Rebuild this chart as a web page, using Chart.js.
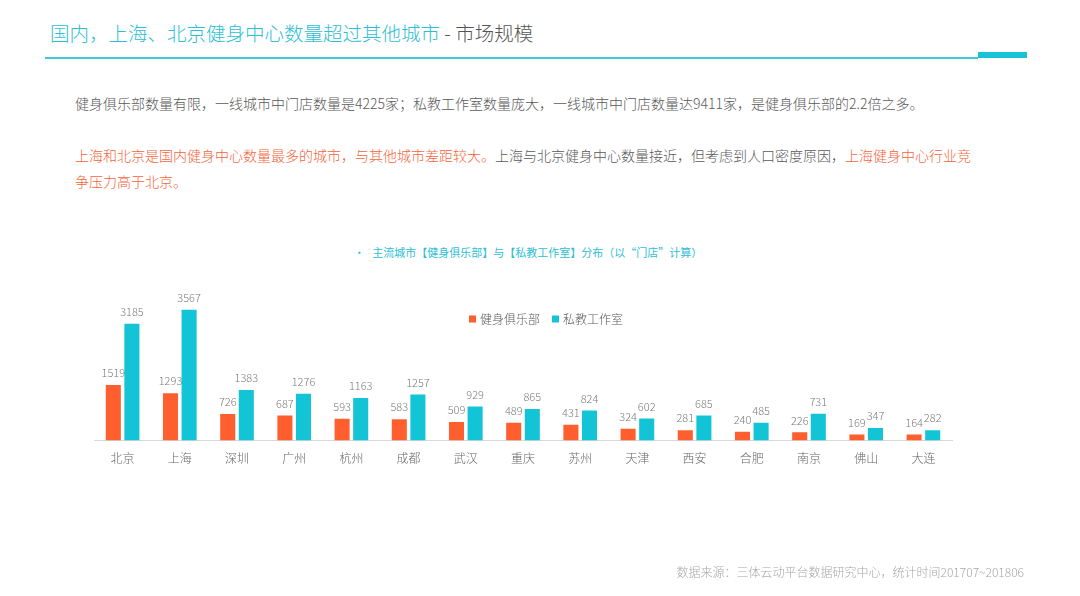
<!DOCTYPE html>
<html>
<head>
<meta charset="utf-8">
<script src="https://cdn.jsdelivr.net/npm/chart.js@4"></script>
<style>
  html,body{margin:0;padding:0;background:#fff;}
  body{width:1080px;height:596px;position:relative;overflow:hidden;font-family:"Noto Sans CJK SC","Noto Sans",sans-serif;}
  .title{position:absolute;left:50px;top:20px;font-size:19.5px;line-height:26px;color:#2cc0d4;font-weight:300;white-space:nowrap;}
  .title span{color:#555;}
  .rule{position:absolute;left:45px;top:57px;width:933px;height:1.5px;background:#41c8db;}
  .rulebold{position:absolute;left:978px;top:52px;width:49px;height:6px;background:#16c3d7;}
  .body{position:absolute;left:75px;top:90px;width:920px;font-size:14px;color:#595959;font-weight:300;white-space:nowrap;}
  .body p{margin:0;line-height:26px;}
  .o{color:#f4643a;}
  .sub{position:absolute;left:0;width:1056px;top:243px;text-align:center;font-size:11px;line-height:18px;color:#2cc0d4;white-space:nowrap;}
  .src{position:absolute;right:56px;top:563px;font-size:12px;color:#a6a6a6;white-space:nowrap;font-weight:300;}
  #wrap{position:absolute;left:0;top:0;width:1080px;height:596px;}
</style>
</head>
<body>
<div class="title">国内，上海、北京健身中心数量超过其他城市<span> - 市场规模</span></div>
<div class="rule"></div>
<div class="rulebold"></div>
<div class="body">
  <p>健身俱乐部数量有限，一线城市中门店数量是4225家；私教工作室数量庞大，一线城市中门店数量达9411家，是健身俱乐部的2.2倍之多。</p>
  <p style="height:26px"></p>
  <p><span class="o">上海和北京是国内健身中心数量最多的城市，与其他城市差距较大。</span>上海与北京健身中心数量接近，但考虑到人口密度原因，<span class="o">上海健身中心行业竞</span></p>
  <p><span class="o">争压力高于北京。</span></p>
</div>
<div class="sub">•&nbsp;&nbsp;&nbsp;主流城市【健身俱乐部】与【私教工作室】分布（以“门店”计算）</div>
<div id="wrap"><canvas id="c"></canvas></div>
<div class="src">数据来源：三体云动平台数据研究中心，统计时间201707~201806</div>
<script>
const categories = ['北京','上海','深圳','广州','杭州','成都','武汉','重庆','苏州','天津','西安','合肥','南京','佛山','大连'];
const clubs   = [1519,1293,726,687,593,583,509,489,431,324,281,240,226,169,164];
const studios = [3185,3567,1383,1276,1163,1257,929,865,824,602,685,485,731,347,282];
const seriesNames = ['健身俱乐部','私教工作室'];
const seriesColors = ['#ff5f2e','#13c4d7'];

const valueLabels = {
  id:'valueLabels',
  afterDatasetsDraw(chart){
    const ctx = chart.ctx;
    ctx.save();
    ctx.font = '300 11px "Noto Sans CJK SC", sans-serif';
    ctx.fillStyle = '#7a7a7a';
    ctx.textAlign = 'center';
    ctx.textBaseline = 'middle';
    chart.data.datasets.forEach((ds,i)=>{
      chart.getDatasetMeta(i).data.forEach((bar,j)=>{
        ctx.fillText(String(ds.data[j]), bar.x, bar.y - 12);
      });
    });
    ctx.restore();
  }
};
const innerLegend = {
  id:'innerLegend',
  afterDraw(chart){
    const ctx = chart.ctx, a = chart.chartArea;
    ctx.save();
    ctx.font = '300 12px "Noto Sans CJK SC", sans-serif';
    ctx.textBaseline = 'middle';
    const box = 7, gapTxt = 4, gapItem = 12;
    const items = chart.data.datasets.map(d=>({t:d.label,c:d.backgroundColor,w:box+gapTxt+ctx.measureText(d.label).width}));
    const total = items.reduce((s,it)=>s+it.w,0) + gapItem*(items.length-1);
    let x = (a.left+a.right)/2 + 23 - total/2;
    const y = a.top + 25;
    items.forEach(it=>{
      ctx.fillStyle = it.c;
      ctx.fillRect(x, y-box/2, box, box);
      ctx.fillStyle = '#595959';
      ctx.fillText(it.t, x+box+gapTxt, y);
      x += it.w + gapItem;
    });
    ctx.restore();
  }
};

new Chart(document.getElementById('c'),{
  type:'bar',
  data:{
    labels:categories,
    datasets:[
      {label:seriesNames[0],data:clubs,backgroundColor:seriesColors[0],categoryPercentage:0.65,barPercentage:0.81},
      {label:seriesNames[1],data:studios,backgroundColor:seriesColors[1],categoryPercentage:0.65,barPercentage:0.81}
    ]
  },
  options:{
    responsive:true,
    maintainAspectRatio:false,
    animation:false,
    layout:{padding:{left:94,right:128,top:294,bottom:119}},
    plugins:{legend:{display:false},tooltip:{enabled:false},title:{display:false}},
    scales:{
      y:{display:false,min:0,max:4000},
      x:{
        grid:{display:false,drawTicks:false},
        border:{display:true,color:'#d9d9d9',width:1},
        ticks:{padding:11,color:'#666',font:{family:'"Noto Sans CJK SC", sans-serif',size:12,weight:300}}
      }
    }
  },
  plugins:[valueLabels,innerLegend]
});
</script>
</body>
</html>
